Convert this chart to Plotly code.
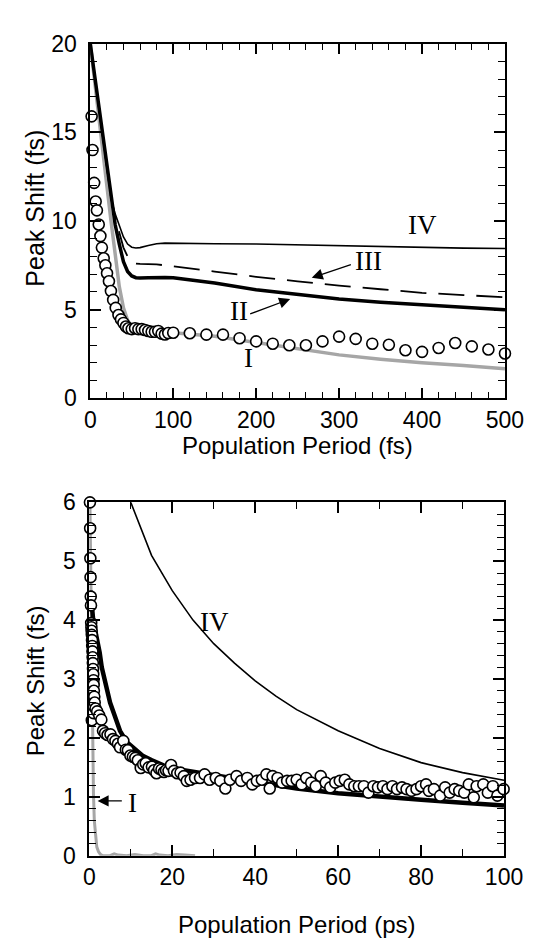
import plotly.graph_objects as go

W, H = 536, 944

# ---------------- top panel data (fs) ----------------
t_fs_exp = [1.6, 2.7, 4.7, 6.5, 8.0, 10.2, 12.2, 14.0, 16.2, 18.2, 20.2, 22.5, 24.9, 27.6,
            30.7, 34, 37, 40, 43, 46, 50, 54, 58, 62, 66, 70, 74, 78, 82, 86, 90, 94, 100,
            120, 140, 160, 180, 200, 220, 240, 260, 280, 300, 320, 340, 360, 380, 400,
            420, 440, 460, 480, 500]
v_fs_exp = [15.9, 14.0, 12.15, 11.1, 10.6, 9.8, 9.15, 8.5, 7.9, 7.5, 7.05, 6.6, 6.05, 5.55,
            5.1, 4.7, 4.45, 4.25, 4.05, 3.95, 3.9, 3.95, 3.9, 3.9, 3.85, 3.8, 3.75, 3.75, 3.8,
            3.65, 3.6, 3.68, 3.7,
            3.67, 3.59, 3.59, 3.39, 3.21, 3.08, 2.99, 2.99, 3.21, 3.48, 3.35, 3.08, 3.02,
            2.71, 2.62, 2.84, 3.12, 2.93, 2.75, 2.53]

t_fs_I = [0, 5, 10, 15, 20, 25, 30, 35, 40, 45, 50, 55, 60, 70, 80, 100, 150, 200, 250,
          300, 350, 400, 450, 500]
v_fs_I = [20, 17.9, 15.8, 14.0, 12.0, 10.0, 8.0, 6.3, 5.1, 4.4, 4.05, 3.9, 3.85, 3.8, 3.75,
          3.7, 3.5, 3.15, 2.8, 2.45, 2.2, 2.0, 1.85, 1.67]

t_fs_II = [0, 10, 20, 25, 30, 35, 40, 45, 50, 55, 60, 70, 80, 90, 100, 150, 200, 250, 300,
           350, 400, 450, 500]
v_fs_II = [20, 16.5, 13.0, 11.3, 9.8, 8.7, 7.7, 7.15, 6.9, 6.8, 6.78, 6.8, 6.82, 6.82, 6.8,
           6.5, 6.12, 5.85, 5.6, 5.42, 5.27, 5.12, 5.0]

t_fs_III = [0, 10, 20, 25, 30, 35, 40, 45, 50, 55, 60, 80, 100, 150, 200, 250, 300, 350,
            400, 450, 500]
v_fs_III = [20, 16.5, 13.0, 11.3, 10.2, 9.3, 8.5, 8.0, 7.7, 7.6, 7.58, 7.55, 7.45, 7.15,
            6.85, 6.6, 6.35, 6.15, 5.95, 5.82, 5.7]

t_fs_IV = [0, 10, 20, 25, 30, 35, 40, 45, 50, 55, 60, 70, 80, 90, 100, 150, 200, 250, 300,
           350, 400, 450, 500]
v_fs_IV = [20, 16.5, 13.0, 11.3, 10.4, 9.7, 9.1, 8.7, 8.52, 8.48, 8.5, 8.62, 8.72, 8.75,
           8.75, 8.72, 8.7, 8.65, 8.6, 8.55, 8.5, 8.47, 8.45]

# ---------------- bottom panel data (ps) ----------------
t_ps_exp = [0.15, 0.2, 0.25, 0.3, 0.35, 0.4, 0.45, 0.5, 0.55, 0.6, 0.65, 0.7, 0.75, 0.8,
            0.85, 0.9, 0.95, 1.0, 1.05, 1.1, 1.2, 1.3, 0.6, 1.0, 1.5, 1.9, 2.4, 2.9, 3.3,
            3.8, 4.4, 5.1, 5.7, 6.3, 6.9, 7.4, 8.2, 8.8, 9.3, 9.9, 10.5, 11.1, 11.7, 12.4,
            13.0, 13.6, 14.3, 15.1, 15.6, 16.2, 16.8, 17.4, 18.0, 18.5, 19.1, 19.7, 20.4,
            21.2, 22.0, 22.8, 23.5,
            24.4, 25.5, 26.7, 27.8, 29.0, 30.5, 31.6, 32.8, 33.9, 35.5, 36.6, 38.1, 39.3,
            40.4, 41.6, 42.7, 43.5, 44.2, 45.4, 46.5, 47.7, 48.8, 50.0, 51.2, 52.3, 53.5,
            54.6, 55.8, 57.0, 58.1, 59.3, 60.4, 61.6, 62.7, 63.9, 65.0, 66.2, 67.3, 68.5,
            69.6, 70.8, 71.9, 73.1, 74.2, 75.4, 76.5, 77.7, 78.9, 80.0, 81.2, 81.9, 83.1,
            84.6, 85.8, 86.9, 88.1, 89.2, 90.4, 91.5, 92.7, 93.4, 95.0, 96.1, 97.3, 98.4,
            99.9]
v_ps_exp = [6.0, 5.56, 5.05, 4.73, 4.40, 4.25, 3.95, 3.88, 3.82, 3.75, 3.66, 3.56, 3.47,
            3.37, 3.27, 3.17, 3.08, 2.98, 2.90, 2.80, 2.70, 2.60, 2.30, 2.42, 2.50, 2.45,
            2.38, 2.31, 2.12, 2.08, 2.05, 2.06, 1.98, 1.95, 1.90, 1.84, 1.95, 1.80, 1.79,
            1.70, 1.68, 1.66, 1.62, 1.49, 1.55, 1.57, 1.50, 1.51, 1.45, 1.40, 1.48, 1.46,
            1.42, 1.45, 1.44, 1.54, 1.44, 1.40, 1.41, 1.35, 1.27,
            1.29, 1.32, 1.32, 1.38, 1.29, 1.32, 1.27, 1.14, 1.29, 1.35, 1.27, 1.32, 1.21,
            1.27, 1.29, 1.38, 1.14, 1.35, 1.32, 1.24, 1.27, 1.27, 1.29, 1.21, 1.32, 1.24,
            1.18, 1.35, 1.24, 1.16, 1.24, 1.27, 1.29, 1.21, 1.18, 1.18, 1.18, 1.07, 1.18,
            1.16, 1.18, 1.13, 1.18, 1.13, 1.16, 1.13, 1.10, 1.13, 1.18, 1.21, 1.10, 1.13,
            1.02, 1.16, 1.07, 1.13, 1.10, 1.07, 1.21, 0.99, 1.18, 1.21, 1.07, 1.18, 1.02,
            1.13]

t_ps_I = [0.1, 0.25, 0.4, 0.55, 0.7, 0.85, 1.0, 1.2, 1.5, 1.8, 2.2, 2.7, 3.2, 5, 6, 7, 9,
          11, 13, 15, 16, 17, 19, 21, 23, 25.5]
v_ps_I = [6.3, 5.2, 4.2, 3.2, 2.4, 1.6, 1.05, 0.6, 0.3, 0.15, 0.07, 0.02, 0.0, 0.0, 0.03,
          0.01, 0.0, 0.02, 0.0, 0.0, 0.03, 0.01, 0.0, 0.02, 0.01, 0.0]

t_ps_II = [0.3, 0.6, 1, 1.5, 2, 2.5, 3, 4, 5, 6, 7.4, 9, 11.3, 13, 15.1, 18, 22.8, 27, 33.5,
           40, 50, 60, 70, 80, 90, 100]
v_ps_II = [4.5, 4.2, 3.95, 3.8, 3.65, 3.45, 3.2, 2.88, 2.6, 2.4, 2.12, 1.93, 1.78, 1.69,
           1.62, 1.53, 1.45, 1.40, 1.33, 1.25, 1.14, 1.06, 1.0, 0.95, 0.9, 0.85]

t_ps_IV = [8, 10, 15, 20, 25, 30, 35, 40, 45, 50, 60, 70, 80, 90, 100]
v_ps_IV = [6.9, 6.0, 5.1, 4.5, 4.0, 3.6, 3.27, 2.97, 2.71, 2.48, 2.12, 1.82, 1.58, 1.41, 1.28]

# tick settings
x_top_ticks = [0, 100, 200, 300, 400, 500]
y_top_ticks = [0, 5, 10, 15, 20]
x_bot_ticks = [0, 20, 40, 60, 80, 100]
y_bot_ticks = [0, 1, 2, 3, 4, 5, 6]

SANS = "Liberation Sans, Arial, Helvetica, sans-serif"
SERIF = "Liberation Serif, Times New Roman, serif"
GRAY = "#a6a6a6"

fig = go.Figure()

marker_style = dict(symbol="circle", size=11, color="white", line=dict(color="black", width=1.6))

# top panel
fig.add_trace(go.Scatter(x=t_fs_I, y=v_fs_I, mode="lines", line=dict(color=GRAY, width=3.5),
                         xaxis="x", yaxis="y", showlegend=False))
fig.add_trace(go.Scatter(x=t_fs_IV, y=v_fs_IV, mode="lines", line=dict(color="black", width=1.6),
                         xaxis="x", yaxis="y", showlegend=False))
fig.add_trace(go.Scatter(x=t_fs_III, y=v_fs_III, mode="lines",
                         line=dict(color="black", width=1.8, dash="26px,12px"),
                         xaxis="x", yaxis="y", showlegend=False))
fig.add_trace(go.Scatter(x=t_fs_II, y=v_fs_II, mode="lines", line=dict(color="black", width=3.5),
                         xaxis="x", yaxis="y", showlegend=False))
fig.add_trace(go.Scatter(x=t_fs_exp, y=v_fs_exp, mode="markers", marker=marker_style,
                         cliponaxis=False, xaxis="x", yaxis="y", showlegend=False))

# bottom panel
fig.add_trace(go.Scatter(x=t_ps_I, y=v_ps_I, mode="lines", line=dict(color=GRAY, width=3),
                         xaxis="x2", yaxis="y2", showlegend=False))
fig.add_trace(go.Scatter(x=t_ps_IV, y=v_ps_IV, mode="lines", line=dict(color="black", width=1.6),
                         xaxis="x2", yaxis="y2", showlegend=False))
fig.add_trace(go.Scatter(x=t_ps_II, y=v_ps_II, mode="lines", line=dict(color="black", width=4.5),
                         xaxis="x2", yaxis="y2", showlegend=False))
fig.add_trace(go.Scatter(x=t_ps_exp, y=v_ps_exp, mode="markers", marker=marker_style,
                         cliponaxis=False, xaxis="x2", yaxis="y2", showlegend=False))

tickfont = dict(family=SANS, size=23, color="black")


def axis_style(rng, vals, minor_dtick, domain, anchor, standoff):
    return dict(range=rng, tickvals=vals, ticktext=[str(v) for v in vals],
                domain=domain, anchor=anchor, showline=True, linecolor="black", linewidth=1.6,
                mirror="allticks", ticks="inside", ticklen=11, tickwidth=1.5, tickcolor="black",
                minor=dict(dtick=minor_dtick, tick0=0, ticks="inside", ticklen=7, tickwidth=1.3,
                           tickcolor="black"),
                showgrid=False, zeroline=False, tickfont=tickfont, ticklabelstandoff=standoff,
                fixedrange=True)


top_x_dom = [80 / W, 515 / W]
top_y_dom = [1 - 388 / H, 1 - 23.3 / H]
bot_x_dom = [79 / W, 514 / W]
bot_y_dom = [1 - 858.3 / H, 1 - 495 / H]

fig.update_layout(
    width=W, height=H, autosize=False,
    margin=dict(l=0, r=0, t=0, b=0),
    paper_bgcolor="white", plot_bgcolor="white",
    xaxis=axis_style([0, 500], x_top_ticks, 20, top_x_dom, "y", 0),
    yaxis=axis_style([0, 20], y_top_ticks, 1, top_y_dom, "x", 7),
    xaxis2=axis_style([0, 100], x_bot_ticks, 10, bot_x_dom, "y2", 0),
    yaxis2=axis_style([0, 6], y_bot_ticks, 0.2, bot_y_dom, "x2", 7),
)

ann = []
# axis titles
ann.append(dict(text="Population Period (fs)", x=297.5 / W, y=1 - 437 / H, xref="paper",
                yref="paper", showarrow=False, xanchor="center", yanchor="middle",
                font=dict(family=SANS, size=24, color="black")))
ann.append(dict(text="Population Period (ps)", x=296 / W, y=1 - 929 / H, xref="paper",
                yref="paper", showarrow=False, xanchor="center", yanchor="middle",
                font=dict(family=SANS, size=24, color="black")))
ann.append(dict(text="Peak Shift (fs)", x=22 / W, y=1 - 192 / H, xref="paper", yref="paper",
                showarrow=False, xanchor="center", yanchor="middle", textangle=-90,
                font=dict(family=SANS, size=25, color="black")))
ann.append(dict(text="Peak Shift (fs)", x=22 / W, y=1 - 678 / H, xref="paper", yref="paper",
                showarrow=False, xanchor="center", yanchor="middle", textangle=-90,
                font=dict(family=SANS, size=24, color="black")))

lab_font = dict(family=SERIF, size=27, color="black")
arrow_kw = dict(showarrow=True, arrowhead=2, arrowsize=1.7, arrowwidth=1.3,
                arrowcolor="black", standoff=0, startstandoff=0)
# top panel curve labels
ann.append(dict(text="IV", x=400, y=9.8, xref="x", yref="y", showarrow=False, font=lab_font))
ann.append(dict(text="III", x=336, y=7.75, xref="x", yref="y", showarrow=False, font=lab_font))
ann.append(dict(text="II", x=179, y=4.92, xref="x", yref="y", showarrow=False, font=lab_font))
ann.append(dict(text="I", x=190.5, y=2.27, xref="x", yref="y", showarrow=False, font=lab_font))
# arrows top
ann.append(dict(text="", x=267, y=6.8, ax=316, ay=7.57, xref="x", yref="y", axref="x",
                ayref="y", **arrow_kw))
ann.append(dict(text="", x=241, y=5.6, ax=191, ay=4.73, xref="x", yref="y", axref="x",
                ayref="y", **arrow_kw))
# bottom panel labels
ann.append(dict(text="IV", x=30.2, y=3.97, xref="x2", yref="y2", showarrow=False,
                font=lab_font))
ann.append(dict(text="I", x=10.3, y=0.9, xref="x2", yref="y2", showarrow=False,
                font=lab_font))
ann.append(dict(text="", x=2.0, y=0.93, ax=8.2, ay=0.93, xref="x2", yref="y2", axref="x2",
                ayref="y2", **arrow_kw))

fig.update_layout(annotations=ann)

fig.write_html("out.html")
